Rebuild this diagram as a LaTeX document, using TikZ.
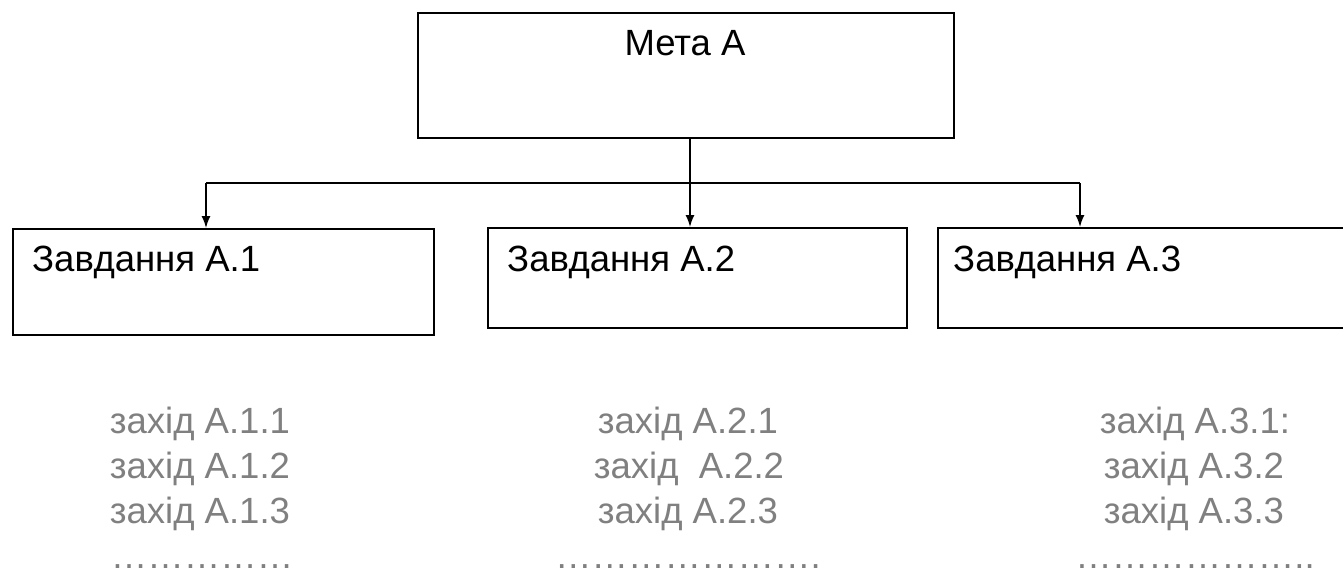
\documentclass[tikz,border=0pt]{standalone}
\usepackage{fontspec}
\setmainfont{Liberation Sans}
\usetikzlibrary{arrows.meta}
\definecolor{graytxt}{RGB}{128,128,128}
\newcommand{\dotgrp}{…}
\begin{document}
\begin{tikzpicture}[x=1pt,y=-1pt,
  box/.style={draw=black,line width=2pt,inner sep=0pt,anchor=north west},
  conn/.style={line width=1.5pt,-{Latex[length=12pt,width=9pt]}},
  plain/.style={line width=1.5pt},
  lbl/.style={font=\fontsize{36.5}{42}\selectfont,inner sep=0pt,anchor=base west},
  act/.style={font=\fontsize{36.5}{45}\selectfont,text=graytxt,inner sep=0pt,anchor=base}]
\useasboundingbox (0,0) rectangle (1343,571);
% boxes
\node[box,minimum width=536pt,minimum height=125pt] (goal) at (417,12) {};
\node[box,minimum width=421pt,minimum height=106pt] (t1) at (12,228) {};
\node[box,minimum width=419pt,minimum height=100pt] (t2) at (487,227) {};
\node[box,minimum width=413pt,minimum height=100pt] (t3) at (937,227) {};
% box texts
\node[lbl,anchor=base] (goaltxt) at (685,55) {Мета А};
\node[lbl] (t1txt) at (32,271) {Завдання А.1};
\node[lbl] (t2txt) at (507,271) {Завдання А.2};
\node[lbl] (t3txt) at (953,271) {Завдання А.3};
% connectors
\coordinate (split) at (690,183);
\coordinate (bl) at (206,183);
\coordinate (br) at (1080,183);
\draw[conn] (goal.south -| split) -- (t2.north -| split);
\draw[plain] (bl) -- (br);
\draw[conn] (bl) -- (bl |- t1.north);
\draw[conn] (br) -- (br |- t3.north);
% activities column 1
\node[act] (a11) at (200,433) {захід А.1.1};
\node[act] (a12) at (200,478) {захід А.1.2};
\node[act] (a13) at (200,523) {захід А.1.3};
\node[act] (a1d) at (202,568) {\dotgrp\dotgrp\dotgrp\dotgrp\dotgrp};
% activities column 2
\node[act] (a21) at (688,433) {захід А.2.1};
\node[act] (a22) at (689,478) {захід~ А.2.2};
\node[act] (a23) at (688,523) {захід А.2.3};
\node[act] (a2d) at (688,568) {\dotgrp\dotgrp\dotgrp\dotgrp\dotgrp\dotgrp\dotgrp.};
% activities column 3
\node[act] (a31) at (1195,433) {захід А.3.1:};
\node[act] (a32) at (1194,478) {захід А.3.2};
\node[act] (a33) at (1194,523) {захід А.3.3};
\node[act] (a3d) at (1195,568) {\dotgrp\dotgrp\dotgrp\dotgrp\dotgrp\dotgrp..};
\end{tikzpicture}
\end{document}
